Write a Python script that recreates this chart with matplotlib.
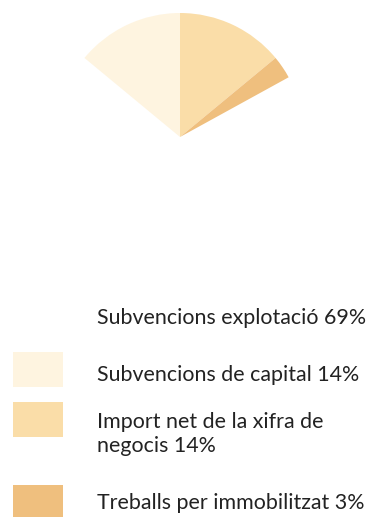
import matplotlib.pyplot as plt
from matplotlib.patches import Rectangle

# data
labels = ['Subvencions explotació', 'Subvencions de capital',
          'Import net de la xifra de\nnegocis', 'Treballs per immobilitzat']
shares = [69, 14, 14, 3]
colors = ['#FFFFFF', '#FEF4E0', '#FADDA8', '#EFBF7E']

plt.rcParams['font.family'] = ['Lato', 'DejaVu Sans']

fig = plt.figure(figsize=(3.75, 5.17), dpi=100)

# pie: centre at about (180, 137) px, radius 124 px
ax = fig.add_axes([56 / 375, (517 - 137 - 124) / 517, 248 / 375, 248 / 517])
ax.pie(shares, colors=colors, startangle=28.8, counterclock=False,
       wedgeprops=dict(linewidth=0))
ax.set_xlim(-1, 1)
ax.set_ylim(-1, 1)
ax.set_aspect('equal')
ax.axis('off')

# legend drawn by hand in pixel space
lg = fig.add_axes([0, 0, 1, 1])
lg.set_xlim(0, 375)
lg.set_ylim(517, 0)
lg.axis('off')
lg.set_zorder(-1)

swatch_y = [300, 352, 402, 485]
# baseline of the last line of each label
text_y = [324, 381, 452, 509]
for lab, val, col, sy, ty in zip(labels, shares, colors, swatch_y, text_y):
    lg.add_patch(Rectangle((13, sy), 50, 35, color=col, lw=0))
    lg.text(97, ty, f'{lab} {val}%', fontsize=15.4, color='#222222',
            va='baseline', ha='left', linespacing=1.26)

fig.savefig('out.png', dpi=100)
